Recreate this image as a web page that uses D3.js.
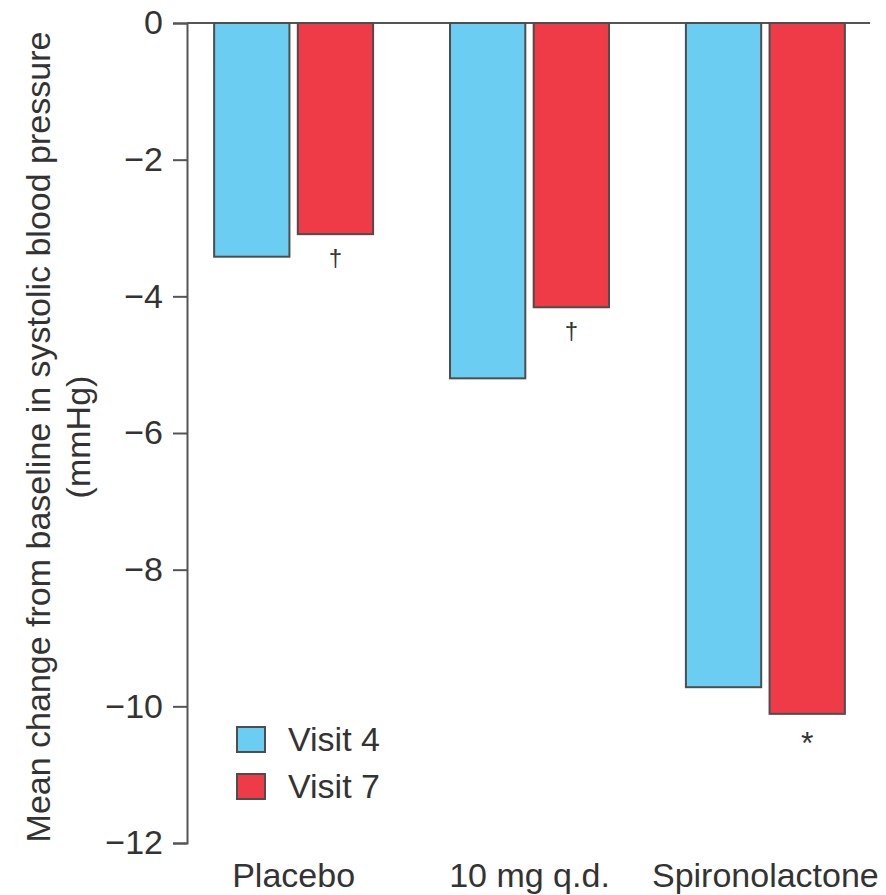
<!DOCTYPE html>
<html>
<head>
<meta charset="utf-8">
<script src="https://cdn.jsdelivr.net/npm/d3@7"></script>
<style>
  body { margin: 0; background: #fff; }
  text { font-family: "Liberation Sans", Arial, sans-serif; fill: #333; }
</style>
</head>
<body>
<div id="chart"></div>
<script>
// data
var groups = ["Placebo", "10 mg q.d.", "Spironolactone"];
var series = ["Visit 4", "Visit 7"];
var visit4 = [-3.42, -5.20, -9.72];
var visit7 = [-3.09, -4.16, -10.11];
var visit7Marks = ["\u2020", "\u2020", "*"];
var yTicks = [0, -2, -4, -6, -8, -10, -12];

var width = 886, height = 895;
var colors = { "Visit 4": "#6bcdf2", "Visit 7": "#ee3b47" };
var strokeColor = "#4d4d4d";

var svg = d3.select("#chart").append("svg")
  .attr("width", width)
  .attr("height", height);

var y = d3.scaleLinear().domain([-12, 0]).range([843, 23]);

var x0 = d3.scaleBand().domain(groups).range([187, 872])
  .paddingInner(0.326).paddingOuter(0.115);
var x1 = d3.scaleBand().domain(series).range([0, x0.bandwidth()])
  .paddingInner(0.1);

var rows = groups.map(function(g, i) {
  return { group: g, values: [
    { key: "Visit 4", value: visit4[i], mark: "" },
    { key: "Visit 7", value: visit7[i], mark: visit7Marks[i] }
  ]};
});

// zero line
svg.append("line")
  .attr("x1", 187).attr("x2", 870)
  .attr("y1", y(0)).attr("y2", y(0))
  .attr("stroke", "#555").attr("stroke-width", 2);

// bars
var g = svg.selectAll("g.grp").data(rows).enter().append("g")
  .attr("class", "grp")
  .attr("transform", function(d) { return "translate(" + x0(d.group) + ",0)"; });

g.selectAll("rect").data(function(d) { return d.values; }).enter().append("rect")
  .attr("x", function(d) { return x1(d.key); })
  .attr("y", y(0))
  .attr("width", x1.bandwidth())
  .attr("height", function(d) { return y(d.value) - y(0); })
  .attr("fill", function(d) { return colors[d.key]; })
  .attr("stroke", strokeColor)
  .attr("stroke-width", 2);

g.selectAll("text.mark").data(function(d) { return d.values.filter(function(v) { return v.mark; }); })
  .enter().append("text")
  .attr("class", "mark")
  .attr("x", function(d) { return x1(d.key) + x1.bandwidth() / 2; })
  .attr("y", function(d) { return y(d.value) + (d.mark === "*" ? 40 : 32); })
  .attr("text-anchor", "middle")
  .style("font-size", function(d) { return d.mark === "*" ? "32px" : "24px"; })
  .text(function(d) { return d.mark; });

// y axis
var yAxis = d3.axisLeft(y).tickValues(yTicks)
  .tickSize(14).tickSizeOuter(14).tickPadding(10)
  .tickFormat(function(d) { return d === 0 ? "0" : "\u2212" + Math.abs(d); });

var ya = svg.append("g").attr("transform", "translate(187,0)").call(yAxis);
ya.select(".domain").attr("stroke", "#555").attr("stroke-width", 2);
ya.selectAll(".tick line").attr("stroke", "#555").attr("stroke-width", 2);
ya.selectAll(".tick text")
  .style("font-size", "34px")
  .style("font-family", "'Liberation Sans', Arial, sans-serif")
  .attr("fill", "#333");

// x labels
svg.selectAll("text.xlab").data(groups).enter().append("text")
  .attr("class", "xlab")
  .attr("x", function(d) { return x0(d) + x0.bandwidth() / 2; })
  .attr("y", 887)
  .attr("text-anchor", "middle")
  .style("font-size", "34px")
  .text(function(d) { return d; });

// y title
var title = svg.append("g");
title.append("text")
  .attr("transform", "translate(50,437) rotate(-90)")
  .attr("text-anchor", "middle")
  .style("font-size", "34px")
  .text("Mean change from baseline in systolic blood pressure");
title.append("text")
  .attr("transform", "translate(90,437) rotate(-90)")
  .attr("text-anchor", "middle")
  .style("font-size", "34px")
  .text("(mmHg)");

// legend
var legend = svg.selectAll("g.leg").data(series).enter().append("g")
  .attr("class", "leg")
  .attr("transform", function(d, i) { return "translate(237," + (727 + i * 47) + ")"; });
legend.append("rect")
  .attr("width", 28).attr("height", 25)
  .attr("fill", function(d) { return colors[d]; })
  .attr("stroke", strokeColor).attr("stroke-width", 2);
legend.append("text")
  .attr("x", 51).attr("y", 24)
  .style("font-size", "34px")
  .text(function(d) { return d; });
</script>
</body>
</html>
